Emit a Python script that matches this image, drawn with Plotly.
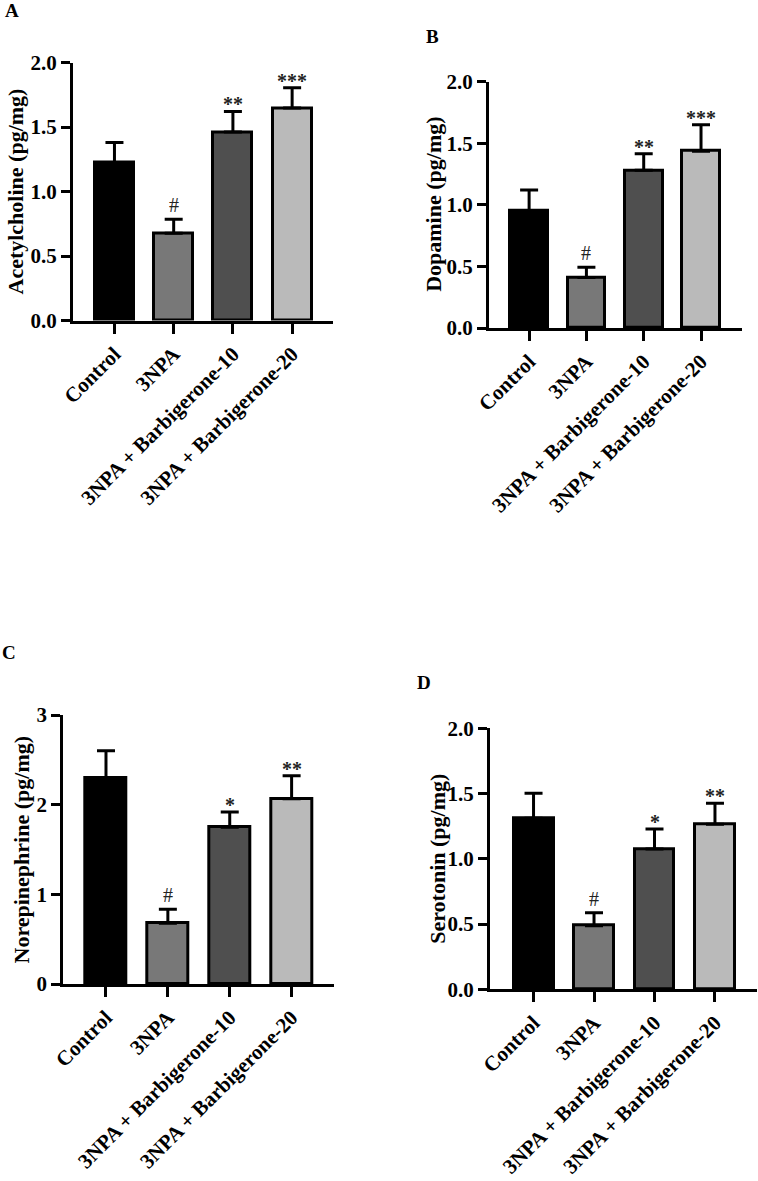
import plotly.graph_objects as go

W, H = 758, 1181

categories = ["Control", "3NPA", "3NPA + Barbigerone-10", "3NPA + Barbigerone-20"]
bar_colors = ["#000000", "#787878", "#4f4f4f", "#bababa"]

# Panel A - Acetylcholine
ach_mean = [1.225, 0.676, 1.461, 1.647]
ach_sem = [0.154, 0.108, 0.160, 0.157]
ach_sig = ["", "#", "**", "***"]

# Panel B - Dopamine
da_mean = [0.953, 0.410, 1.281, 1.436]
da_sem = [0.167, 0.084, 0.134, 0.215]
da_sig = ["", "#", "**", "***"]

# Panel C - Norepinephrine
ne_mean = [2.30, 0.677, 1.747, 2.066]
ne_sem = [0.30, 0.156, 0.171, 0.256]
ne_sig = ["", "#", "*", "**"]

# Panel D - Serotonin
ser_mean = [1.310, 0.487, 1.075, 1.264]
ser_sem = [0.192, 0.100, 0.153, 0.161]
ser_sig = ["", "#", "*", "**"]

FONT = "Liberation Serif, Times New Roman, serif"

panels = [
    dict(letter="A", title="Acetylcholine (pg/mg)", mean=ach_mean, sem=ach_sem, sig=ach_sig,
         px_x=(73, 333), px_y=(62.5, 320.5), xr=(-0.70, 3.69), yr=(0, 2), dtick=0.5, fmt=".1f",
         title_x=15, letter_xy=(12, 11)),
    dict(letter="B", title="Dopamine (pg/mg)", mean=da_mean, sem=da_sem, sig=da_sig,
         px_x=(489, 741.7), px_y=(81.7, 328), xr=(-0.70, 3.71), yr=(0, 2), dtick=0.5, fmt=".1f",
         title_x=434, letter_xy=(432, 37)),
    dict(letter="C", title="Norepinephrine (pg/mg)", mean=ne_mean, sem=ne_sem, sig=ne_sig,
         px_x=(63.3, 334.3), px_y=(715, 984), xr=(-0.69, 3.69), yr=(0, 3), dtick=1, fmt="d",
         title_x=21, letter_xy=(9, 652)),
    dict(letter="D", title="Serotonin (pg/mg)", mean=ser_mean, sem=ser_sem, sig=ser_sig,
         px_x=(490, 756.7), px_y=(728.3, 989.3), xr=(-0.72, 3.69), yr=(0, 2), dtick=0.5, fmt=".1f",
         title_x=438, letter_xy=(424, 682)),
]

fig = go.Figure()
annotations = []
layout_axes = {}

for i, p in enumerate(panels, start=1):
    xa = "x" if i == 1 else f"x{i}"
    ya = "y" if i == 1 else f"y{i}"
    fig.add_trace(go.Bar(
        x=list(range(len(categories))), y=p["mean"],
        xaxis=xa, yaxis=ya,
        width=0.66,
        marker=dict(color=bar_colors, line=dict(color="black", width=3)),
        error_y=dict(type="data", symmetric=False, array=p["sem"],
                     arrayminus=[0] * len(p["sem"]),
                     color="black", thickness=3, width=9),
        showlegend=False,
    ))
    xdom = [p["px_x"][0] / W, p["px_x"][1] / W]
    ydom = [1 - p["px_y"][1] / H, 1 - p["px_y"][0] / H]
    xkey = "xaxis" if i == 1 else f"xaxis{i}"
    ykey = "yaxis" if i == 1 else f"yaxis{i}"
    layout_axes[xkey] = dict(
        domain=xdom, anchor=ya, range=list(p["xr"]), automargin=False,
        tickmode="array", tickvals=list(range(len(categories))), ticktext=categories,
        tickangle=-45, ticks="outside", ticklen=10, tickwidth=3, tickcolor="black",
        showline=True, linewidth=3, linecolor="black", showgrid=False, zeroline=False,
        tickfont=dict(family=FONT, size=21, color="black", weight="bold"),
        fixedrange=True,
    )
    layout_axes[ykey] = dict(
        domain=ydom, anchor=xa, range=list(p["yr"]), dtick=p["dtick"], tick0=0,
        automargin=False,
        tickformat=p["fmt"], ticks="outside", ticklen=9, tickwidth=3, tickcolor="black",
        showline=True, linewidth=3, linecolor="black", showgrid=False, zeroline=False,
        tickfont=dict(family=FONT, size=21, color="black", weight="bold"),
        fixedrange=True,
    )
    # y-axis title
    annotations.append(dict(
        text=f"<b>{p['title']}</b>", textangle=-90,
        x=p["title_x"] / W, y=1 - ((p["px_y"][0] + p["px_y"][1]) / 2) / H,
        xref="paper", yref="paper", xanchor="center", yanchor="middle", showarrow=False,
        font=dict(family=FONT, size=22, color="black"),
    ))
    # panel letter
    annotations.append(dict(
        text=f"<b>{p['letter']}</b>",
        x=p["letter_xy"][0] / W, y=1 - p["letter_xy"][1] / H,
        xref="paper", yref="paper", xanchor="center", yanchor="middle", showarrow=False,
        font=dict(family=FONT, size=19, color="black"),
    ))
    # significance markers
    for j, s in enumerate(p["sig"]):
        if not s:
            continue
        is_star = "*" in s
        annotations.append(dict(
            text=(f"<b>{s}</b>" if is_star else s),
            x=j, y=p["mean"][j] + p["sem"][j], xref=xa, yref=ya,
            xanchor="center", yanchor="bottom", showarrow=False,
            yshift=(-6 if is_star else 1),
            font=dict(family=FONT, size=20, color="#222222"),
        ))

fig.update_layout(
    width=W, height=H,
    margin=dict(l=0, r=0, t=0, b=0, autoexpand=False),
    paper_bgcolor="white", plot_bgcolor="white",
    annotations=annotations,
    bargap=0,
    **layout_axes,
)

fig.write_html("out.html")
